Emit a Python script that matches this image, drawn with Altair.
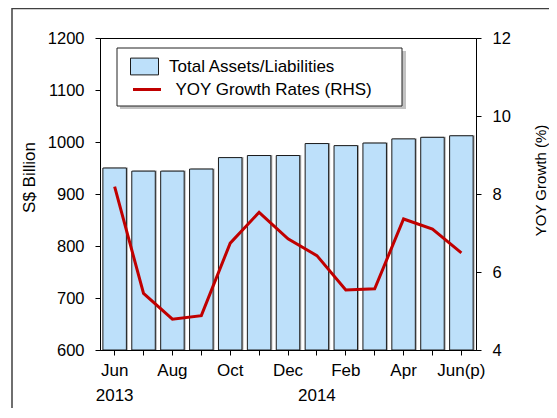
import altair as alt
import pandas as pd

# ---- data ----
month_keys = list(range(13))
month_names = ["Jun", "Jul", "Aug", "Sep", "Oct", "Nov", "Dec", "Jan", "Feb", "Mar", "Apr", "May", "Jun(p)"]
tick_labels = ["Jun", "", "Aug", "", "Oct", "", "Dec", "", "Feb", "", "Apr", "", "Jun(p)"]
year_labels = ["2013", "", "", "", "", "", "", "2014", "", "", "", "", ""]
assets = [950, 944, 944, 948, 970, 974, 974, 997, 993, 998, 1006, 1009, 1012]
growth = [8.19, 5.45, 4.79, 4.88, 6.74, 7.53, 6.85, 6.42, 5.54, 5.57, 7.36, 7.10, 6.49]
y_left_ticks = [600, 700, 800, 900, 1000, 1100, 1200]
y_right_ticks = [4, 6, 8, 10, 12]
bar_series = "Total Assets/Liabilities"
line_series = "YOY Growth Rates (RHS)"

df = pd.DataFrame({
    "idx": month_keys,
    "month": month_names,
    "assets": assets,
    "growth": growth,
    "s1": [bar_series] * 13,
    "s2": [line_series] * 13,
})

FONT = "Liberation Sans"
label_expr = "[" + ",".join(
    "['%s','%s']" % (a, b) for a, b in zip(tick_labels, year_labels)
) + "][datum.value]"

x_enc = alt.X(
    "idx:O",
    scale=alt.Scale(paddingInner=0.187, paddingOuter=0.1),
    axis=alt.Axis(
        title=None, labelAngle=0, labelExpr=label_expr, labelFont=FONT,
        labelFontSize=17, labelColor="black", labelLineHeight=25,
        labelPadding=7, tickSize=5, tickColor="black", domainColor="black",
        labelBaseline="top", zindex=1,
    ),
)

one = pd.DataFrame({"a": [0]})

frame = alt.Chart(one).mark_rect(
    fill=None, stroke="#404040", strokeWidth=1.5
).encode(
    x=alt.value(-88), x2=alt.value(520), y=alt.value(-29.5), y2=alt.value(420)
)

y_left_scale = alt.Scale(domain=[600, 1200], nice=False, zero=False)

bar_shadow = alt.Chart(df).mark_bar(
    fill="#8a8a8a", opacity=0.7, xOffset=1.5, yOffset=-0.5
).encode(
    x=x_enc,
    y=alt.Y("assets:Q", scale=y_left_scale, axis=None),
    y2=alt.Y2(datum=600),
)

bars = alt.Chart(df).mark_bar(stroke="#1a1a1a", strokeWidth=1).encode(
    x=x_enc,
    y=alt.Y(
        "assets:Q",
        scale=y_left_scale,
        axis=alt.Axis(
            title="S$ Billion", values=y_left_ticks, format="d", grid=False, orient="left",
            labelFont=FONT, labelFontSize=16.5, labelColor="black", labelPadding=11,
            tickSize=5, tickColor="black", domainColor="black",
            titleFont=FONT, titleFontSize=17, titleFontWeight="normal", titleColor="black",
            titleAngle=270, titleAlign="center", titleBaseline="middle",
            titleX=-71, titleY=139, zindex=1,
        ),
    ),
    y2=alt.Y2(datum=600),
    fill=alt.Fill(
        "s1:N",
        scale=alt.Scale(domain=[bar_series], range=["#BDE0FA"]),
        legend=alt.Legend(
            orient="none", legendX=30, legendY=14, title=None, padding=0, offset=0,
            symbolType="M-1,-0.6H1V0.6H-1Z", symbolSize=784, symbolOffset=0,
            symbolStrokeColor="#1a1a1a", symbolStrokeWidth=1, symbolFillColor="#BDE0FA",
            labelFont=FONT, labelFontSize=17, labelColor="black", labelOffset=10,
            labelLimit=400,
        ),
    ),
)

legend_shadow = alt.Chart(one).mark_rect(fill="#9a9a9a", opacity=0.6).encode(
    x=alt.value(20), x2=alt.value(306), y=alt.value(13), y2=alt.value(71)
)
legend_box = alt.Chart(one).mark_rect(fill="white", stroke="#222222", strokeWidth=1).encode(
    x=alt.value(17), x2=alt.value(302), y=alt.value(10), y2=alt.value(68)
)

line = alt.Chart(df).mark_line(strokeWidth=3).encode(
    x=x_enc,
    y=alt.Y(
        "growth:Q",
        scale=alt.Scale(domain=[4, 12], nice=False, zero=False),
        axis=alt.Axis(
            title="YOY Growth (%)", values=y_right_ticks, grid=False, orient="right",
            labelFont=FONT, labelFontSize=16.5, labelColor="black", labelPadding=11,
            tickSize=5, tickColor="black", domainColor="black",
            titleFont=FONT, titleFontSize=15, titleFontWeight="normal", titleColor="black",
            titleAngle=270, titleAlign="center", titleBaseline="middle",
            titleX=64, titleY=142, zindex=1,
        ),
    ),
    stroke=alt.Stroke(
        "s2:N",
        scale=alt.Scale(domain=[line_series], range=["#C00000"]),
        legend=alt.Legend(
            orient="none", legendX=31.5, legendY=36, title=None, padding=0, offset=0,
            symbolType="stroke", symbolSize=784, symbolOffset=0,
            symbolStrokeWidth=3, symbolStrokeColor="#C00000",
            labelFont=FONT, labelFontSize=17, labelColor="black", labelOffset=13,
            labelLimit=400,
        ),
    ),
)

chart = alt.layer(
    frame, bar_shadow, bars, legend_shadow, legend_box, line
).resolve_scale(
    y="independent", fill="independent", stroke="independent"
).properties(
    width=376, height=312,
    autosize=alt.AutoSizeParams(type="none"),
    padding={"left": 92, "top": 30, "right": 73, "bottom": 58},
    background="white",
).configure_view(
    stroke="black", strokeWidth=1
)

chart.save("out.html", embed_options={"renderer": "svg", "actions": False})
